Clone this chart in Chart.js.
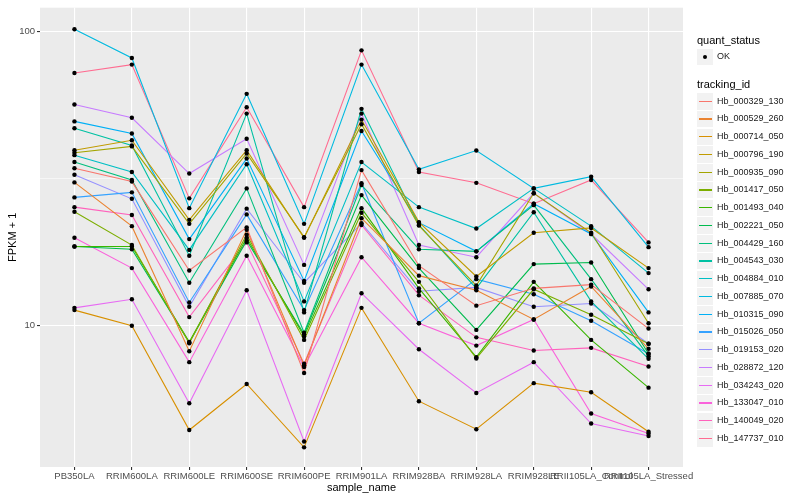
<!DOCTYPE html>
<html>
<head>
<meta charset="utf-8">
<script src="https://cdn.jsdelivr.net/npm/chart.js@4.4.0/dist/chart.umd.min.js"></script>
<style>
  body { margin: 0; background: #fff; font-family: "Liberation Sans", Arial, sans-serif; }
  #wrap { position: relative; width: 800px; height: 500px; }
  #legend { position: absolute; left: 0; top: 0; }
  .ttl { position: absolute; font-size: 11px; color: #000; white-space: nowrap; }
  .key { position: absolute; width: 16px; height: 16px; background: #F2F2F2; }
  .lab { position: absolute; font-size: 9px; color: #1a1a1a; white-space: nowrap; }
</style>
</head>
<body>
<div id="wrap">
  <canvas id="c" width="800" height="500"></canvas>
  <div id="legend"></div>
</div>
<script>
const categories = ["PB350LA", "RRIM600LA", "RRIM600LE", "RRIM600SE", "RRIM600PE", "RRIM901LA",
  "RRIM928BA", "RRIM928LA", "RRIM928LE", "RRII105LA_Control", "RRII105LA_Stressed"];

const trackingIds = ["Hb_000329_130", "Hb_000529_260", "Hb_000714_050", "Hb_000796_190", "Hb_000935_090",
  "Hb_001417_050", "Hb_001493_040", "Hb_002221_050", "Hb_004429_160", "Hb_004543_030",
  "Hb_004884_010", "Hb_007885_070", "Hb_010315_090", "Hb_015026_050", "Hb_019153_020",
  "Hb_028872_120", "Hb_034243_020", "Hb_133047_010", "Hb_140049_020", "Hb_147737_010"];

// FPKM + 1 per sample
const Hb_000329_130 = [34.3, 30.9, 15.4, 21.6, 6.91, 33.8, 16.0, 11.7, 13.4, 13.8, 9.78];
const Hb_000529_260 = [30.7, 21.8, 8.19, 21.2, 7.34, 23.2, 14.8, 13.2, 10.5, 13.6, 8.35];
const Hb_000714_050 = [11.3, 10.0, 4.42, 6.34, 3.86, 11.5, 5.54, 4.45, 6.38, 5.94, 4.36];
const Hb_000796_190 = [39.5, 42.7, 22.9, 39.5, 19.9, 50.2, 22.5, 14.7, 20.7, 21.5, 15.7];
const Hb_000935_090 = [38.7, 40.7, 22.2, 38.5, 20.0, 48.4, 21.9, 13.7, 28.2, 20.7, 10.2];
const Hb_001417_050 = [24.4, 18.8, 8.72, 20.4, 8.95, 24.2, 14.1, 7.74, 13.3, 10.9, 8.68];
const Hb_001493_040 = [18.6, 18.6, 8.80, 19.9, 9.20, 25.1, 13.4, 7.82, 14.1, 8.95, 6.16];
const Hb_002221_050 = [18.6, 18.2, 8.77, 19.5, 9.35, 27.8, 15.7, 9.68, 16.2, 16.4, 8.03];
const Hb_004429_160 = [36.0, 31.3, 14.0, 29.3, 9.47, 30.1, 18.2, 17.9, 25.7, 14.4, 7.88];
const Hb_004543_030 = [46.9, 41.0, 17.3, 52.6, 11.1, 54.6, 22.0, 13.4, 24.3, 12.1, 7.72];
const Hb_004884_010 = [38.0, 33.3, 18.1, 35.4, 12.1, 36.0, 25.3, 21.4, 29.3, 21.8, 15.1];
const Hb_007885_070 = [101.8, 81.3, 25.1, 61.4, 22.2, 77.2, 34.0, 39.4, 29.3, 32.1, 18.5];
const Hb_010315_090 = [49.5, 45.0, 19.7, 37.0, 14.2, 45.9, 22.4, 17.9, 26.0, 20.5, 11.1];
const Hb_015026_050 = [27.3, 28.4, 12.0, 23.9, 11.3, 30.5, 10.2, 14.4, 12.8, 10.4, 8.03];
const Hb_019153_020 = [32.6, 27.0, 11.6, 25.0, 14.0, 22.3, 13.1, 13.5, 11.6, 11.9, 8.68];
const Hb_028872_120 = [56.5, 50.9, 32.9, 43.2, 16.1, 52.6, 18.8, 17.1, 28.2, 20.5, 13.3];
const Hb_034243_020 = [11.5, 12.3, 5.45, 13.2, 4.04, 12.9, 8.32, 5.91, 7.52, 4.65, 4.22];
const Hb_133047_010 = [19.9, 15.7, 7.52, 17.3, 7.24, 17.1, 10.2, 8.56, 10.5, 5.03, 4.30];
const Hb_140049_020 = [25.3, 23.8, 10.7, 19.2, 7.43, 22.0, 12.7, 9.13, 8.24, 8.41, 7.27];
const Hb_147737_010 = [72.3, 77.2, 27.1, 55.3, 25.3, 86.3, 33.3, 30.6, 26.0, 31.3, 19.2];

const seriesValues = [Hb_000329_130, Hb_000529_260, Hb_000714_050, Hb_000796_190, Hb_000935_090,
  Hb_001417_050, Hb_001493_040, Hb_002221_050, Hb_004429_160, Hb_004543_030,
  Hb_004884_010, Hb_007885_070, Hb_010315_090, Hb_015026_050, Hb_019153_020,
  Hb_028872_120, Hb_034243_020, Hb_133047_010, Hb_140049_020, Hb_147737_010];

const yTicks = [10, 10 ** 1.5, 100];
const yTickLabels = ["10", "", "100"];

const palette = ["#F8766D", "#EA8331", "#D89000", "#C09B00", "#A3A500", "#7CAE00", "#39B600", "#00BB4E",
  "#00BF7D", "#00C1A3", "#00BFC4", "#00BAE0", "#00B0F6", "#35A2FF", "#9590FF", "#C77CFF",
  "#E76BF3", "#FA62DB", "#FF62BC", "#FF6C91"];

// grey panel behind the plot
const panelBg = {
  id: "panelBg",
  beforeDraw: (chart) => {
    const { ctx, chartArea: a } = chart;
    ctx.save();
    ctx.fillStyle = "#EBEBEB";
    ctx.fillRect(a.left, a.top, a.right - a.left, a.bottom - a.top);
    ctx.restore();
  }
};

const lineSets = seriesValues.map((vals, k) => ({
  label: trackingIds[k],
  data: vals.map((v, i) => ({ x: i, y: v })),
  borderColor: palette[k],
  borderWidth: 1.1,
  pointRadius: 0,
  showLine: true,
  fill: false,
  order: 2
}));

const pointSet = {
  label: "OK",
  data: seriesValues.flatMap((vals) => vals.map((v, i) => ({ x: i, y: v }))),
  showLine: false,
  pointRadius: 2.2,
  pointBackgroundColor: "#000",
  pointBorderWidth: 0,
  order: 1
};

const tickFont = { family: "Liberation Sans", size: 9.5 };

new Chart(document.getElementById("c").getContext("2d"), {
  type: "scatter",
  plugins: [panelBg],
  data: { datasets: [...lineSets, pointSet] },
  options: {
    responsive: false,
    animation: false,
    layout: { padding: { top: 0, right: 117, left: 0, bottom: 0 } },
    plugins: { legend: { display: false }, tooltip: { enabled: false } },
    scales: {
      x: {
        type: "linear",
        min: -0.6,
        max: 10.6,
        afterBuildTicks: (s) => { s.ticks = categories.map((c, i) => ({ value: i })); },
        afterFit: (s) => { s.height = 33; },
        ticks: {
          autoSkip: false, maxRotation: 0, minRotation: 0, padding: 1,
          color: "#4D4D4D", font: tickFont,
          callback: (v) => categories[v]
        },
        grid: { color: "#FFFFFF", lineWidth: 1.1, tickColor: "#333333", tickLength: 3 },
        border: { display: false },
        title: { display: true, text: "sample_name", color: "#000", font: { family: "Liberation Sans", size: 11 }, padding: { top: 0, bottom: 5 } }
      },
      y: {
        type: "logarithmic",
        min: 3.31,
        max: 120.5,
        afterBuildTicks: (s) => { s.ticks = yTicks.map((v) => ({ value: v })); },
        afterFit: (s) => { s.width = 40; },
        ticks: {
          color: "#4D4D4D", font: tickFont, padding: 2,
          callback: (v, i) => yTickLabels[i]
        },
        grid: {
          color: "#FFFFFF",
          lineWidth: (c) => (c.index === 1 ? 0.55 : 1.1),
          tickColor: (c) => (c.index === 1 ? "rgba(0,0,0,0)" : "#333333"),
          tickLength: 3
        },
        border: { display: false },
        title: { display: true, text: "FPKM + 1", color: "#000", font: { family: "Liberation Sans", size: 11 }, padding: { top: 6, bottom: 0 } }
      }
    }
  }
});

// ggplot-style legend on the right
const legend = document.getElementById("legend");
function add(cls, css, text) {
  const d = document.createElement("div");
  d.className = cls;
  Object.assign(d.style, css);
  if (text) d.textContent = text;
  legend.appendChild(d);
  return d;
}
add("ttl", { left: "697px", top: "34px" }, "quant_status");
add("key", { left: "697px", top: "49px" });
add("", { position: "absolute", left: "705px", top: "57px", width: "4px", height: "4px", marginLeft: "-2px", marginTop: "-2px", borderRadius: "50%", background: "#000" });
add("lab", { left: "717px", top: "51px" }, "OK");
add("ttl", { left: "697px", top: "78px" }, "tracking_id");
trackingIds.forEach((id, k) => {
  const top = 93 + k * 17.75;
  add("key", { left: "697px", top: top + "px", height: "16.5px" });
  add("", { position: "absolute", left: "699px", top: (top + 7.6) + "px", width: "13px", height: "1.3px", background: palette[k] });
  add("lab", { left: "717px", top: (top + 2.5) + "px" }, id);
});
</script>
</body>
</html>
